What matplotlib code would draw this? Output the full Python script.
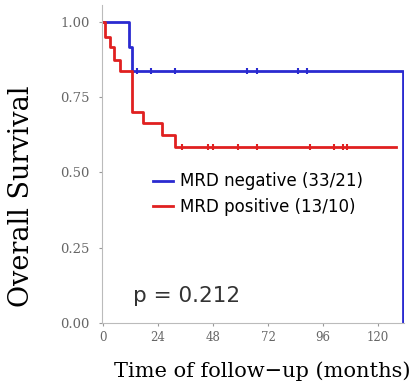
import matplotlib.pyplot as plt
import numpy as np

# KM step data (months, survival)
neg_time = [0, 11.4, 12.7, 131, 131]
neg_surv = [1.0, 0.917, 0.837, 0.837, 0.0]
neg_cens = [14.8, 21, 31.4, 62.9, 67.2, 85, 89]

pos_time = [0, 1, 3, 5, 7.5, 12.7, 17.5, 25.7, 31.4, 128]
pos_surv = [1.0, 0.95, 0.917, 0.875, 0.837, 0.70, 0.664, 0.625, 0.585, 0.585]
pos_cens = [34.5, 45.9, 48, 59, 67.2, 90.4, 101, 104.8, 106.5]

x_ticks = [0, 24, 48, 72, 96, 120]
y_ticks = [0.0, 0.25, 0.5, 0.75, 1.0]

blue = '#2a2ad0'
red = '#e02020'

fig = plt.figure(figsize=(4.15, 3.88), dpi=100)
ax = fig.add_axes([0.246, 0.1675, 0.727, 0.8196])

ax.step(neg_time, neg_surv, where='post', color=blue, lw=2,
        label='MRD negative (33/21)')
ax.step(pos_time, pos_surv, where='post', color=red, lw=2,
        label='MRD positive (13/10)')
ax.plot(neg_cens, [0.837] * len(neg_cens), '|', color=blue, ms=5, mew=1.5)
ax.plot(pos_cens, [0.585] * len(pos_cens), '|', color=red, ms=5, mew=1.5)

ax.set_xlim(-0.4, 131.3)
ax.set_ylim(0, 1.056)
ax.set_xticks(x_ticks)
ax.set_yticks(y_ticks)
ax.set_xticklabels([str(t) for t in x_ticks], family='DejaVu Serif',
                   fontsize=8.5, color='#666666')
ax.set_yticklabels(['%.2f' % t for t in y_ticks], family='DejaVu Serif',
                   fontsize=9.5, color='#666666')
ax.tick_params(length=2, color='#999999')
ax.tick_params(axis='y', pad=7)

for s in ['top', 'right']:
    ax.spines[s].set_visible(False)
for s in ['left', 'bottom']:
    ax.spines[s].set_color('#bbbbbb')

ax.set_xlabel('Time of follow\u2212up (months)', family='DejaVu Serif',
              fontsize=15)
ax.xaxis.set_label_coords(0.53, -0.12)
ax.set_ylabel('Overall Survival', family='DejaVu Serif', fontsize=19.5)
ax.yaxis.set_label_coords(-0.222, 0.40)

ax.text(13, 0.09, 'p = 0.212', family='DejaVu Sans', fontsize=15.5,
        color='#333333', va='center')
ax.legend(loc='center left', bbox_to_anchor=(0.12, 0.405), frameon=False,
          prop={'family': 'DejaVu Sans', 'size': 12}, handlelength=1.2,
          handletextpad=0.4, labelspacing=0.45)

plt.savefig('out.png', dpi=100)
